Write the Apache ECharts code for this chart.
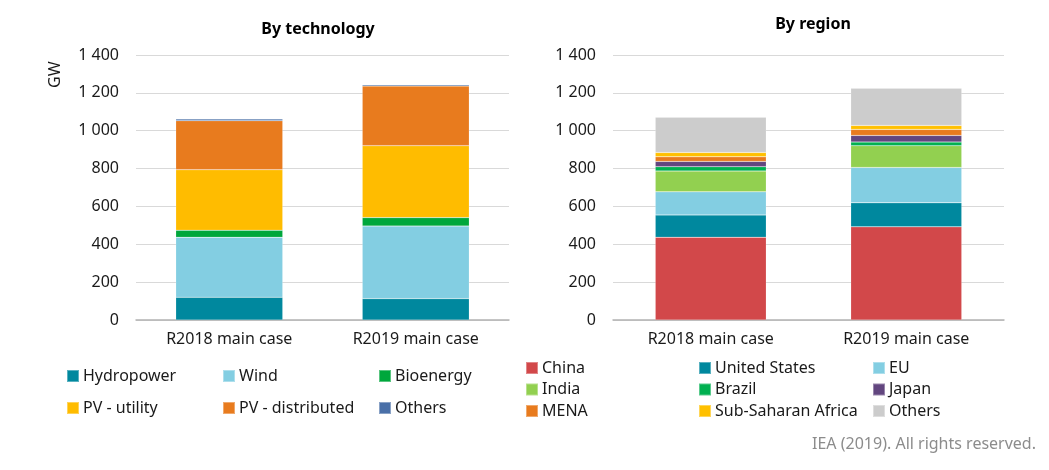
<!DOCTYPE html>
<html><head><meta charset="utf-8">
<script src="https://cdn.jsdelivr.net/npm/echarts@6/dist/echarts.min.js"></script>
<style>html,body{margin:0;padding:0;background:#fff}#c{width:1049px;height:470px}</style>
</head><body><div id="c"></div>
<script>
const categories = ['R2018 main case', 'R2019 main case'];
const yTicks = [0, 200, 400, 600, 800, 1000, 1200, 1400];

const techNames = ['Hydropower', 'Wind', 'Bioenergy', 'PV - utility', 'PV - distributed', 'Others'];
const hydropower = [120, 113];
const wind = [317, 383];
const bioenergy = [37, 45];
const pvUtility = [320, 380];
const pvDistributed = [259, 315];
const techOthers = [9, 7];

const regionNames = ['China', 'United States', 'EU', 'India', 'Brazil', 'Japan', 'MENA', 'Sub-Saharan Africa', 'Others'];
const china = [437, 492];
const unitedStates = [118, 127];
const eu = [122, 187];
const india = [110, 115];
const brazil = [23, 19];
const japan = [28, 35];
const mena = [24, 32];
const subSaharanAfrica = [23, 21];
const regionOthers = [186, 196];

const techColors = ['#00889e', '#83cee2', '#00a73c', '#ffbc00', '#e87b1e', '#4a70a8'];
const regionColors = ['#d2484a', '#00889e', '#83cee2', '#92d050', '#00b050', '#62467f', '#e87b1e', '#ffc000', '#cccccc'];

const techData = [hydropower, wind, bioenergy, pvUtility, pvDistributed, techOthers];
const regionData = [china, unitedStates, eu, india, brazil, japan, mena, subSaharanAfrica, regionOthers];

const FONT = 'Noto Sans';
const fmt = v => { const s = String(v); return s.length > 3 ? s.slice(0, s.length - 3) + ' ' + s.slice(-3) : s; };

// Region "Others" gets a trailing space internally to keep it distinct from the technology "Others".
const regionKeys = regionNames.map(n => n === 'Others' ? 'Others ' : n);

const series = [];
techNames.forEach((n, i) => series.push({
  name: n, type: 'bar', stack: 'tech', xAxisIndex: 0, yAxisIndex: 0, barWidth: 107,
  itemStyle: { color: techColors[i], borderColor: 'rgba(255,255,255,0.35)', borderWidth: 0.5 },
  data: techData[i]
}));
regionKeys.forEach((n, i) => series.push({
  name: n, type: 'bar', stack: 'region', xAxisIndex: 1, yAxisIndex: 1, barWidth: 111,
  itemStyle: { color: regionColors[i], borderColor: 'rgba(255,255,255,0.35)', borderWidth: 0.5 },
  data: regionData[i]
}));

const xAxisBase = (gi) => ({
  type: 'category', gridIndex: gi, data: categories,
  axisLine: { lineStyle: { color: '#b3b3b3', width: 1.5 } },
  axisTick: { show: false },
  axisLabel: { color: '#1a1a1a', fontSize: 16, fontFamily: FONT, margin: 11 }
});
const yAxisBase = (gi) => ({
  type: 'value', gridIndex: gi, min: yTicks[0], max: yTicks[yTicks.length - 1], interval: yTicks[1] - yTicks[0],
  axisLine: { show: false }, axisTick: { show: false },
  splitLine: { lineStyle: { color: '#d9d9d9', width: 1 } },
  axisLabel: { color: '#1a1a1a', fontSize: 16, fontFamily: FONT, margin: 17, formatter: fmt }
});

const legendCommon = {
  orient: 'vertical', padding: 0, itemWidth: 12, itemHeight: 12, icon: 'rect',
  textStyle: { fontSize: 16, fontFamily: FONT, color: '#1a1a1a', padding: [0, 0, 0, -1] },
  formatter: n => n.trim(), selectedMode: false
};
const legends = [
  { left: 66, top: 368, itemGap: 16, data: ['Hydropower', 'PV - utility'] },
  { left: 222, top: 368, itemGap: 16, data: ['Wind', 'PV - distributed'] },
  { left: 378, top: 368, itemGap: 16, data: ['Bioenergy', 'Others'] },
  { left: 525, top: 360, itemGap: 5.5, data: ['China', 'India', 'MENA'] },
  { left: 698, top: 360, itemGap: 5.5, data: ['United States', 'Brazil', 'Sub-Saharan Africa'] },
  { left: 872, top: 360, itemGap: 5.5, data: ['EU', 'Japan', 'Others '] }
].map(l => Object.assign({}, legendCommon, l));

const chart = echarts.init(document.getElementById('c'), null, { renderer: 'canvas' });
chart.setOption({
  backgroundColor: '#fff',
  animation: false,
  title: [
    { text: 'By technology', left: 313, top: 16, textAlign: 'center',
      textStyle: { fontSize: 16, fontWeight: 'bold', fontFamily: FONT, color: '#000' } },
    { text: 'By region', left: 808, top: 11, textAlign: 'center',
      textStyle: { fontSize: 16, fontWeight: 'bold', fontFamily: FONT, color: '#000' } }
  ],
  grid: [
    { left: 136, right: 540, top: 55, bottom: 150 },
    { left: 613, right: 45, top: 55, bottom: 150 }
  ],
  xAxis: [xAxisBase(0), xAxisBase(1)],
  yAxis: [yAxisBase(0), yAxisBase(1)],
  legend: legends,
  series: series,
  graphic: [
    { type: 'text', x: 47, y: 88, rotation: Math.PI / 2,
      style: { text: 'GW', font: '16px "Noto Sans"', fill: '#1a1a1a' } },
    { type: 'text', right: 13, top: 436,
      style: { text: 'IEA (2019). All rights reserved.', font: '16px "Noto Sans"', fill: '#8c8c8c' } }
  ]
});
</script></body></html>
